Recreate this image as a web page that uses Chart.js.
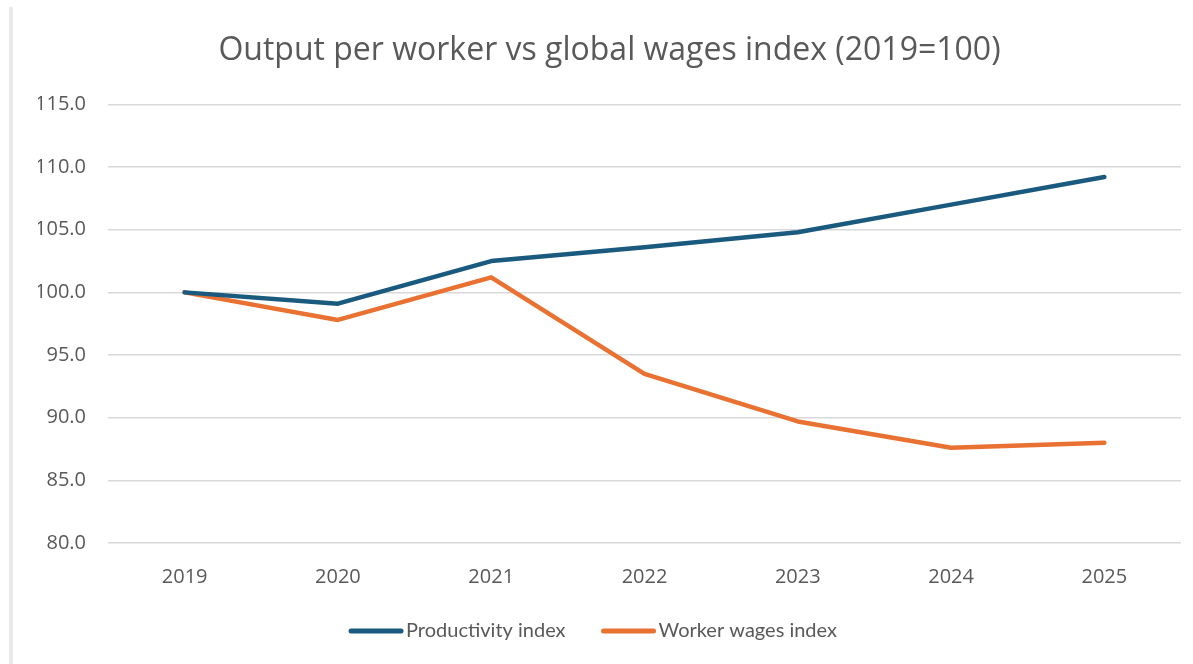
<!DOCTYPE html>
<html>
<head>
<meta charset="utf-8">
<title>Output per worker vs global wages index</title>
<script src="https://cdn.jsdelivr.net/npm/chart.js@4.4.1/dist/chart.umd.min.js"></script>
<style>
    html, body {
        margin: 0;
        padding: 0;
        background: #ffffff;
    }

    #wrap {
        position: relative;
        width: 1193px;
        height: 664px;
    }

    #edge {
        position: absolute;
        left: 9px;
        top: 7px;
        bottom: 0;
        width: 4px;
        background: #e9e9e9;
    }

    #myChart {
        position: absolute;
        left: 0;
        top: 0;
    }
</style>
</head>
<body>
<div id="wrap">
    <div id="edge"></div>
    <canvas id="myChart" width="1193" height="664"></canvas>
</div>

<script>
const years = ['2019', '2020', '2021', '2022', '2023', '2024', '2025'];
const productivity = [100.0, 99.1, 102.5, 103.6, 104.8, 107.0, 109.2];
const wages = [100.0, 97.8, 101.2, 93.5, 89.7, 87.6, 88.0];
const seriesNames = ['Productivity index', 'Worker wages index'];
const yTicks = [80, 85, 90, 95, 100, 105, 110, 115];

const textColor = '#595959';
const gridColor = '#d9d9d9';

function makeLine(label, data, color) {
    return {
        label: label,
        data: data,
        borderColor: color,
        backgroundColor: color,
        borderWidth: 4.5,
        borderJoinStyle: 'round',
        borderCapStyle: 'round',
        pointRadius: 0,
        pointHoverRadius: 0,
        tension: 0,
        fill: false
    };
}

// legend under the axis: a short line sample right next to each label
const lineLegend = {
    id: 'lineLegend',
    afterDraw(chart) {
        const c = chart.ctx;
        const sampleWidth = 54;
        const gap = 3;
        const spacing = 36;
        const y = 631;

        c.save();
        c.font = '20px Lato';
        c.textBaseline = 'middle';
        c.textAlign = 'left';

        const items = chart.data.datasets.map(ds => ({
            label: ds.label,
            color: ds.borderColor,
            width: c.measureText(ds.label).width
        }));

        let total = spacing * (items.length - 1);
        items.forEach(item => {
            total += sampleWidth + gap + item.width;
        });

        let x = 593 - total / 2;
        items.forEach(item => {
            c.strokeStyle = item.color;
            c.lineWidth = 5;
            c.lineCap = 'round';
            c.beginPath();
            c.moveTo(x + 2, y);
            c.lineTo(x + sampleWidth - 2, y);
            c.stroke();

            c.fillStyle = textColor;
            c.fillText(item.label, x + sampleWidth + gap, y);
            x += sampleWidth + gap + item.width + spacing;
        });

        c.restore();
    }
};

function initChart() {
    const ctx = document.getElementById('myChart');
    const myChart = new Chart(ctx, {
        type: 'line',
        data: {
            labels: years,
            datasets: [
                makeLine(seriesNames[0], productivity, '#1a5a7e'),
                makeLine(seriesNames[1], wages, '#e97132')
            ]
        },
        options: {
            responsive: false,
            animation: false,
            events: [],
            layout: {
                padding: {
                    left: 38,
                    right: 12,
                    top: 0,
                    bottom: 77
                }
            },
            scales: {
                x: {
                    offset: true,
                    grid: {
                        display: false,
                        drawTicks: false
                    },
                    border: {
                        display: false
                    },
                    ticks: {
                        padding: 22,
                        font: {
                            family: 'Open Sans',
                            size: 20
                        },
                        color: textColor
                    },
                    afterFit(scale) {
                        scale.height = 44;
                    }
                },
                y: {
                    min: 80,
                    max: 115,
                    afterBuildTicks(scale) {
                        scale.ticks = yTicks.map(v => ({ value: v }));
                    },
                    grid: {
                        color: gridColor,
                        lineWidth: 1.6,
                        drawTicks: false
                    },
                    border: {
                        display: false
                    },
                    ticks: {
                        padding: 22,
                        callback: v => v.toFixed(1),
                        font: {
                            family: 'Open Sans',
                            size: 20
                        },
                        color: textColor
                    },
                    afterFit(scale) {
                        scale.width = 70;
                    }
                }
            },
            plugins: {
                title: {
                    display: true,
                    text: 'Output per worker vs global wages index (2019=100)',
                    color: textColor,
                    font: {
                        family: 'Open Sans',
                        size: 32,
                        weight: 'normal'
                    },
                    padding: {
                        top: 32,
                        bottom: 34
                    }
                },
                legend: {
                    display: false
                },
                tooltip: {
                    enabled: false
                }
            }
        },
        plugins: [lineLegend]
    });
}

initChart();
</script>
</body>
</html>
